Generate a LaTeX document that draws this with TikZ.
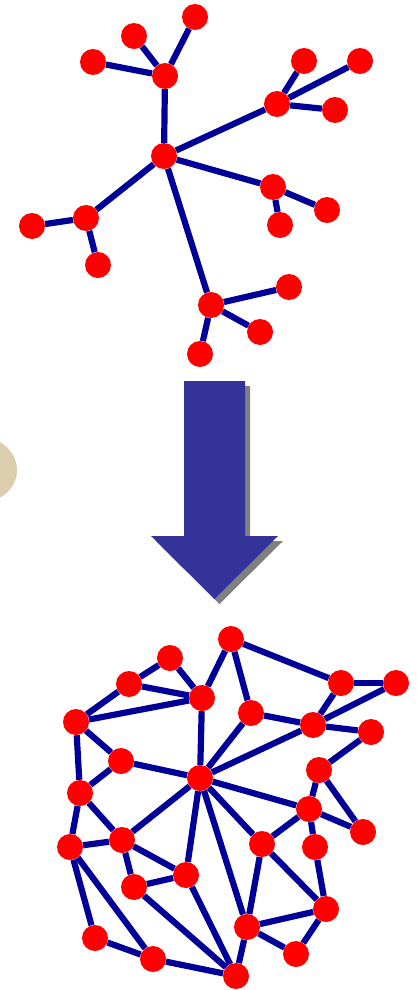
\documentclass[tikz,border=0pt]{standalone}
\usepackage{tikz}

\definecolor{edgeblue}{HTML}{000099}
\definecolor{arrowblue}{HTML}{333399}
\definecolor{sand}{HTML}{DCCDAF}

\begin{document}
\begin{tikzpicture}[x=1pt,y=-1pt, dot/.style={circle,fill=red,inner sep=0pt,minimum size=26pt}, edge/.style={draw=edgeblue,line width=6.2pt}]
\useasboundingbox (0,0) rectangle (416,990);
% beige blob cut by the left border
\begin{scope}
\clip (0,0) rectangle (416,990);
\fill[sand] (-20,470) ellipse [x radius=37, y radius=33];
\end{scope}
% tree
\node[dot] (c) at (164,156) {};
\node[dot] (t) at (165,76) {};
\node[dot] (ta) at (93,62) {};
\node[dot] (tb) at (134,36) {};
\node[dot] (tc) at (195,17) {};
\node[dot] (r) at (277,104) {};
\node[dot] (ra) at (304,61) {};
\node[dot] (rb) at (360,61) {};
\node[dot] (rc) at (335,110) {};
\node[dot] (s) at (273,187) {};
\node[dot] (sa) at (327,210) {};
\node[dot] (sb) at (280,225) {};
\node[dot] (l) at (86,218) {};
\node[dot] (la) at (32,226) {};
\node[dot] (lb) at (98,265) {};
\node[dot] (b) at (211,305) {};
\node[dot] (ba) at (289,287) {};
\node[dot] (bb) at (260,332) {};
\node[dot] (bc) at (200,354) {};
\draw[edge] (c)--(t);\draw[edge] (t)--(ta);\draw[edge] (t)--(tb);\draw[edge] (t)--(tc);
\draw[edge] (c)--(r);\draw[edge] (r)--(ra);\draw[edge] (r)--(rb);\draw[edge] (r)--(rc);
\draw[edge] (c)--(s);\draw[edge] (s)--(sa);\draw[edge] (s)--(sb);
\draw[edge] (c)--(l);\draw[edge] (l)--(la);\draw[edge] (l)--(lb);
\draw[edge] (c)--(b);\draw[edge] (b)--(ba);\draw[edge] (b)--(bb);\draw[edge] (b)--(bc);
% arrow with shadow
\fill[gray] (189,386)--(250,386)--(250,541)--(283,541)--(219.5,604)--(156,541)--(189,541)--cycle;
\fill[arrowblue] (184,381)--(245,381)--(245,536)--(278,536)--(214.5,599)--(151,536)--(184,536)--cycle;
% mesh
\node[dot] (m1) at (231,639) {};
\node[dot] (m2) at (170,658) {};
\node[dot] (m3) at (129,684) {};
\node[dot] (m4) at (202,698) {};
\node[dot] (m5) at (251,713) {};
\node[dot] (m6) at (341,683) {};
\node[dot] (m7) at (396,683) {};
\node[dot] (m8) at (313,725) {};
\node[dot] (m9) at (371,732) {};
\node[dot] (m10) at (76,722) {};
\node[dot] (m11) at (121,761) {};
\node[dot] (m12) at (200,778) {};
\node[dot] (m13) at (319,770) {};
\node[dot] (m14) at (80,793) {};
\node[dot] (m15) at (309,809) {};
\node[dot] (m16) at (363,832) {};
\node[dot] (m17) at (70,847) {};
\node[dot] (m18) at (122,840) {};
\node[dot] (m19) at (262,844) {};
\node[dot] (m20) at (315,847) {};
\node[dot] (m21) at (186,875) {};
\node[dot] (m22) at (134,887) {};
\node[dot] (m23) at (326,909) {};
\node[dot] (m24) at (247,927) {};
\node[dot] (m25) at (95,938) {};
\node[dot] (m26) at (153,959) {};
\node[dot] (m27) at (296,954) {};
\node[dot] (m28) at (236,976) {};
\draw[edge] (m1)--(m4);\draw[edge] (m1)--(m5);\draw[edge] (m1)--(m6);
\draw[edge] (m2)--(m3);\draw[edge] (m2)--(m4);\draw[edge] (m3)--(m4);\draw[edge] (m3)--(m10);\draw[edge] (m10)--(m4);
\draw[edge] (m4)--(m12);\draw[edge] (m5)--(m8);\draw[edge] (m5)--(m12);
\draw[edge] (m6)--(m7);\draw[edge] (m6)--(m8);\draw[edge] (m7)--(m8);\draw[edge] (m8)--(m9);\draw[edge] (m8)--(m12);
\draw[edge] (m9)--(m13);\draw[edge] (m13)--(m15);\draw[edge] (m13)--(m16);\draw[edge] (m15)--(m16);
\draw[edge] (m15)--(m20);\draw[edge] (m20)--(m23);\draw[edge] (m15)--(m19);
\draw[edge] (m12)--(m15);\draw[edge] (m12)--(m19);\draw[edge] (m12)--(m24);\draw[edge] (m12)--(m21);\draw[edge] (m12)--(m18);\draw[edge] (m12)--(m11);
\draw[edge] (m10)--(m11);\draw[edge] (m11)--(m14);\draw[edge] (m10)--(m14);
\draw[edge] (m14)--(m17);\draw[edge] (m14)--(m18);\draw[edge] (m17)--(m18);
\draw[edge] (m18)--(m21);\draw[edge] (m18)--(m22);\draw[edge] (m22)--(m21);\draw[edge] (m22)--(m28);\draw[edge] (m21)--(m28);
\draw[edge] (m17)--(m25);\draw[edge] (m17)--(m26);\draw[edge] (m25)--(m26);\draw[edge] (m26)--(m28);
\draw[edge] (m28)--(m24);\draw[edge] (m24)--(m19);\draw[edge] (m19)--(m23);\draw[edge] (m24)--(m23);\draw[edge] (m24)--(m27);\draw[edge] (m27)--(m23);
\end{tikzpicture}
\end{document}
